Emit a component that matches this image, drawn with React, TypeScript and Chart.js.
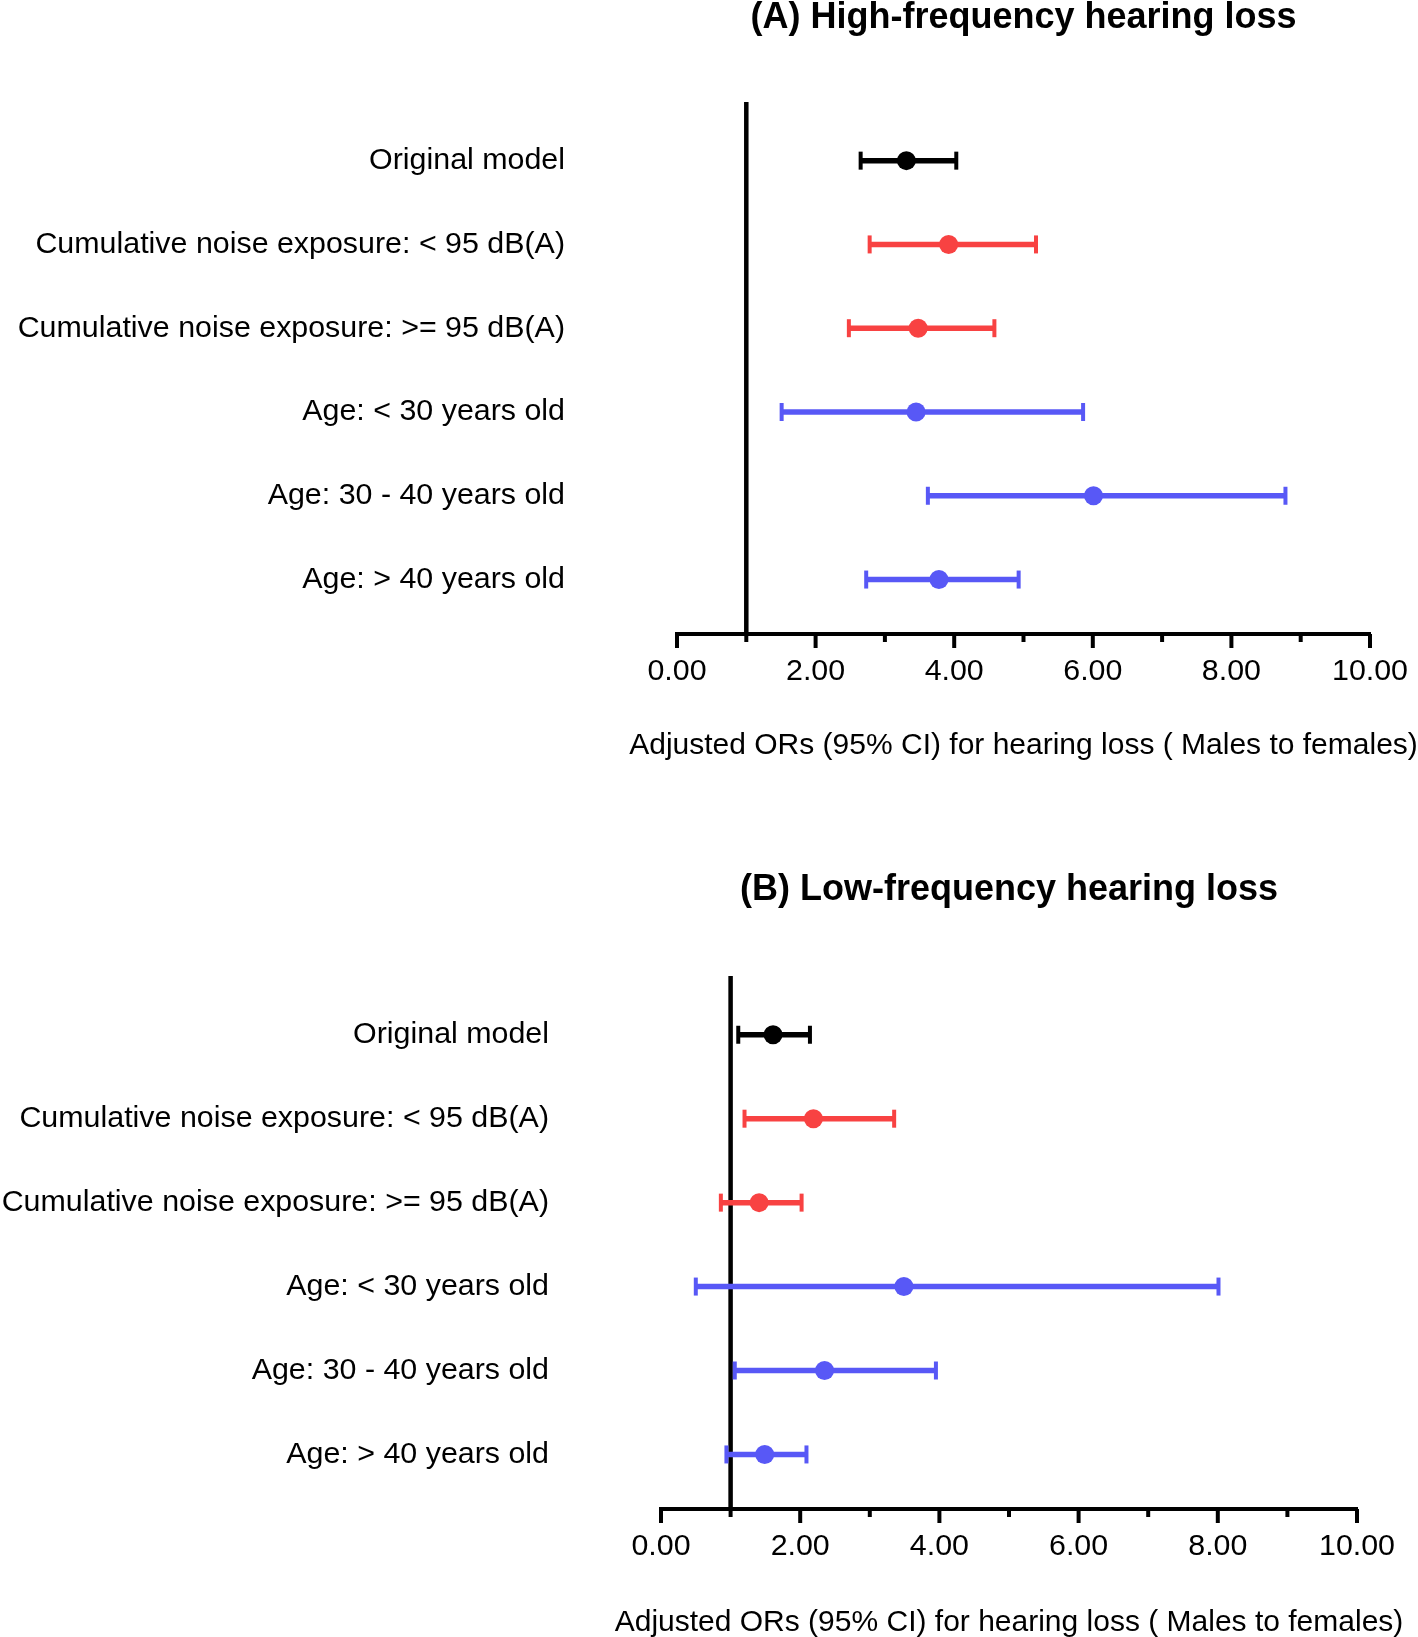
import React, { useEffect, useRef } from "react";
import { Chart, registerables } from "chart.js";

Chart.register(...registerables);

// ---------- data ----------
const categories = [
  "Original model",
  "Cumulative noise exposure: < 95 dB(A)",
  "Cumulative noise exposure: >= 95 dB(A)",
  "Age: < 30 years old",
  "Age: 30 - 40 years old",
  "Age: > 40 years old",
];

const highOR = [3.31, 3.92, 3.48, 3.45, 6.01, 3.78];
const highLower = [2.65, 2.78, 2.48, 1.51, 3.62, 2.73];
const highUpper = [4.03, 5.18, 4.58, 5.86, 8.78, 4.93];

const lowOR = [1.61, 2.19, 1.41, 3.49, 2.35, 1.49];
const lowLower = [1.11, 1.2, 0.86, 0.5, 1.06, 0.94];
const lowUpper = [2.14, 3.35, 2.02, 8.01, 3.95, 2.09];

const referenceOR = 1;
const xTickMarks = [0, 1, 2, 3, 4, 5, 6, 7, 8, 9, 10];
const axisTitleText = "Adjusted ORs (95% CI) for hearing loss ( Males to females)";

// ---------- styles ----------
const BLACK = "#000000";
const RED = "rgb(248, 66, 66)";
const BLUE = "rgb(88, 88, 246)";
const rowColors = [BLACK, RED, RED, BLUE, BLUE, BLUE];
const FONT = "'Liberation Sans', Arial, Helvetica, sans-serif";

type PanelProps = {
  title: string;
  or: number[];
  lower: number[];
  upper: number[];
  top: number;
  height: number;
  chartLeft: number;
  chartRight: number;
  titlePadTop: number;
  titlePadBottom: number;
  xAxisHeight: number;
  axisTitleY: number;
};

const yMin = 0.3;
const yMax = 6.65;

function Panel(p: PanelProps) {
  const ref = useRef<HTMLCanvasElement | null>(null);
  useEffect(() => {
    if (!ref.current) return;
    const decor = {
      id: "axisDecor",
      afterDraw(chart: any) {
        const { ctx, chartArea } = chart;
        const xs = chart.scales.x;
        ctx.save();
        ctx.strokeStyle = BLACK;
        ctx.lineWidth = 4;
        for (const v of xTickMarks) {
          const px = xs.getPixelForValue(v);
          const len = v % 2 === 0 ? 14 : 8;
          ctx.beginPath();
          ctx.moveTo(px, xs.top);
          ctx.lineTo(px, xs.top + len);
          ctx.stroke();
        }
        ctx.fillStyle = BLACK;
        ctx.font = `30px ${FONT}`;
        ctx.textAlign = "center";
        ctx.textBaseline = "middle";
        ctx.fillText(axisTitleText, (chartArea.left + chartArea.right) / 2, p.axisTitleY);
        ctx.restore();
      },
    };

    const ciSets = categories.map((_, i) => ({
      type: "scatter" as const,
      data: [
        { x: p.lower[i], y: i + 1 },
        { x: p.upper[i], y: i + 1 },
      ],
      showLine: true,
      borderColor: rowColors[i],
      borderWidth: 5.5,
      pointStyle: "line" as const,
      pointRotation: 90,
      pointRadius: 9,
      pointBorderWidth: 4,
      pointBorderColor: rowColors[i],
      pointBackgroundColor: rowColors[i],
      order: 1,
    }));

    const chart = new Chart(ref.current, {
      type: "scatter",
      data: {
        datasets: [
          {
            data: p.or.map((v, i) => ({ x: v, y: i + 1 })),
            pointRadius: 9.5,
            pointBackgroundColor: rowColors,
            pointBorderWidth: 0,
            showLine: false,
            order: 0,
          } as any,
          ...ciSets,
          {
            data: [
              { x: referenceOR, y: yMin },
              { x: referenceOR, y: yMax },
            ],
            showLine: true,
            borderColor: BLACK,
            borderWidth: 4.5,
            pointRadius: 0,
            order: 2,
          },
        ],
      },
      options: {
        responsive: false,
        animation: false,
        events: [],
        layout: { padding: { left: 0, right: 1418 - p.chartRight, top: 0, bottom: 0 } },
        plugins: {
          legend: { display: false },
          tooltip: { enabled: false },
          title: {
            display: true,
            text: p.title,
            fullSize: false,
            color: BLACK,
            font: { family: FONT, size: 36, weight: "bold", lineHeight: 1 },
            padding: { top: p.titlePadTop, bottom: p.titlePadBottom },
          },
        },
        scales: {
          x: {
            type: "linear",
            min: 0,
            max: 10,
            grid: {
              display: true,
              drawOnChartArea: false,
              drawTicks: true,
              tickLength: 19,
              tickColor: "rgba(0,0,0,0)",
            },
            border: { display: true, color: BLACK, width: 4 },
            ticks: {
              stepSize: 2,
              padding: 0,
              color: BLACK,
              maxRotation: 0,
              autoSkip: false,
              font: { family: FONT, size: 30.4 },
              callback: (v: any) => Number(v).toFixed(2),
            },
            afterFit: (axis: any) => {
              axis.height = p.xAxisHeight;
            },
          },
          y: {
            type: "linear",
            reverse: true,
            min: yMin,
            max: yMax,
            grid: {
              display: true,
              drawOnChartArea: false,
              drawTicks: true,
              tickLength: 112,
              tickColor: "rgba(0,0,0,0)",
            },
            border: { display: false },
            afterBuildTicks: (axis: any) => {
              axis.ticks = categories.map((_, i) => ({ value: i + 1 }));
            },
            afterFit: (axis: any) => {
              axis.width = p.chartLeft;
            },
            ticks: {
              padding: 0,
              color: BLACK,
              autoSkip: false,
              font: { family: FONT, size: 30.4 },
              callback: (v: any) => categories[Math.round(Number(v)) - 1] ?? "",
            },
          },
        },
      } as any,
      plugins: [decor],
    });
    return () => chart.destroy();
  }, []);
  return (
    <canvas
      ref={ref}
      width={1418}
      height={p.height}
      style={{ position: "absolute", left: 0, top: p.top, width: 1418, height: p.height }}
    />
  );
}

export default function App() {
  return (
    <div
      style={{
        position: "absolute",
        left: 0,
        top: 0,
        width: 1418,
        height: 1637,
        background: "#ffffff",
        overflow: "hidden",
      }}
    >
      <Panel
        title="(A) High-frequency hearing loss"
        or={highOR}
        lower={highLower}
        upper={highUpper}
        top={0}
        height={780}
        chartLeft={677}
        chartRight={1370}
        titlePadTop={0}
        titlePadBottom={66}
        xAxisHeight={780 - 634}
        axisTitleY={746}
      />
      <Panel
        title="(B) Low-frequency hearing loss"
        or={lowOR}
        lower={lowLower}
        upper={lowUpper}
        top={780}
        height={857}
        chartLeft={661}
        chartRight={1357}
        titlePadTop={92.5}
        titlePadBottom={67.5}
        xAxisHeight={857 - 729}
        axisTitleY={843}
      />
    </div>
  );
}
